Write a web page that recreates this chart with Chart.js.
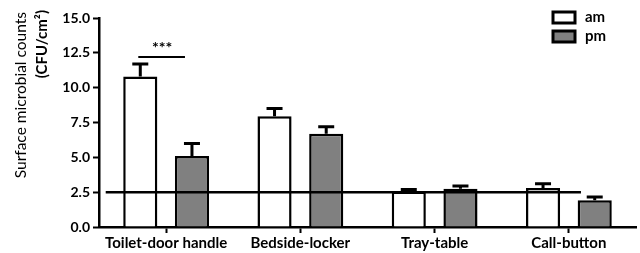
<!DOCTYPE html>
<html>
<head>
<meta charset="utf-8">
<script src="https://cdn.jsdelivr.net/npm/chart.js@4"></script>
<style>
  html, body { margin: 0; padding: 0; background: #fff; }
  #wrap { width: 640px; height: 253px; }
</style>
</head>
<body>
<div id="wrap"><canvas id="chart1" width="640" height="253"></canvas></div>
<script>
// data
const sites = ['Toilet-door handle', 'Bedside-locker', 'Tray-table', 'Call-button'];
const amMeans = [10.8, 7.95, 2.55, 2.8];
const amErrors = [11.7, 8.5, 2.7, 3.1];
const pmMeans = [5.1, 6.7, 2.75, 1.92];
const pmErrors = [6.0, 7.2, 2.95, 2.15];
const yTicks = [0, 2.5, 5, 7.5, 10, 12.5, 15];
const thresholdValue = 2.5;
const sigLabel = '***';
const sigValue = 12.2;
const yTitle = ['Surface microbial counts', '(CFU/cm\u00B2)'];

const errorTops = [amErrors, pmErrors];

const extrasPlugin = {
    id: 'extras',
    afterDatasetsDraw(chart) {
        const ctx = chart.ctx;
        const x = chart.scales.x;
        const y = chart.scales.y;
        ctx.save();
        ctx.strokeStyle = '#000';
        ctx.lineCap = 'butt';

        // error bars (upper only)
        chart.data.datasets.forEach((ds, di) => {
            const meta = chart.getDatasetMeta(di);
            meta.data.forEach((bar, i) => {
                const top = y.getPixelForValue(errorTops[di][i]);
                ctx.lineWidth = 3;
                ctx.beginPath();
                ctx.moveTo(bar.x, bar.y);
                ctx.lineTo(bar.x, top);
                ctx.moveTo(bar.x - 8, top);
                ctx.lineTo(bar.x + 8, top);
                ctx.stroke();
            });
        });

        // threshold line
        const ty = y.getPixelForValue(thresholdValue);
        ctx.lineWidth = 2.5;
        ctx.beginPath();
        ctx.moveTo(x.getPixelForValue(-0.45), ty);
        ctx.lineTo(x.getPixelForValue(3.09), ty);
        ctx.stroke();

        // significance bar
        const m0 = chart.getDatasetMeta(0).data[0];
        const m1 = chart.getDatasetMeta(1).data[0];
        const sy = y.getPixelForValue(sigValue);
        ctx.lineWidth = 2;
        ctx.beginPath();
        ctx.moveTo(m0.x - 2, sy);
        ctx.lineTo(m1.x - 7, sy);
        ctx.stroke();
        ctx.fillStyle = '#000';
        ctx.font = 'bold 16px Lato';
        ctx.textAlign = 'center';
        ctx.textBaseline = 'middle';
        ctx.fillText(sigLabel, (m0.x + m1.x) / 2 - 4, sy - 9);

        // legend
        chart.data.datasets.forEach((ds, di) => {
            const by = 12 + di * 19;
            ctx.fillStyle = ds.backgroundColor;
            ctx.fillRect(553, by, 22, 11);
            ctx.lineWidth = 3;
            ctx.strokeRect(553, by, 22, 11);
            ctx.fillStyle = '#000';
            ctx.font = 'bold 15px Lato';
            ctx.textAlign = 'left';
            ctx.fillText(ds.label, 585, by + 5);
        });

        // y axis title
        ctx.rotate(-Math.PI / 2);
        ctx.textAlign = 'right';
        ctx.font = '15.5px Lato';
        ctx.fillText(yTitle[0], -12, 21);
        ctx.font = 'bold 15px Lato';
        ctx.fillText(yTitle[1], -10, 42);
        ctx.restore();
    }
};

const ctx1 = document.getElementById('chart1').getContext('2d');
const chart1 = new Chart(ctx1, {
    type: 'bar',
    data: {
        labels: sites,
        datasets: [{
            label: 'am',
            data: amMeans,
            backgroundColor: '#ffffff',
            borderColor: '#000000',
            borderWidth: 2.5
        }, {
            label: 'pm',
            data: pmMeans,
            backgroundColor: '#808080',
            borderColor: '#000000',
            borderWidth: 2.5
        }]
    },
    options: {
        responsive: false,
        animation: false,
        devicePixelRatio: 1,
        categoryPercentage: 0.77,
        barPercentage: 0.66,
        layout: { padding: { top: 18, right: 4, left: 0, bottom: 0 } },
        plugins: {
            legend: { display: false },
            tooltip: { enabled: false }
        },
        scales: {
            x: {
                afterFit: (s) => { s.height = 26; },
                grid: {
                    offset: false,
                    drawOnChartArea: false,
                    drawTicks: true,
                    tickLength: 6,
                    tickWidth: 2,
                    tickColor: '#000'
                },
                border: { color: '#000', width: 2.5 },
                ticks: {
                    color: '#000',
                    padding: 1,
                    font: { family: 'Lato', size: 15, weight: 'bold' }
                }
            },
            y: {
                min: 0,
                max: 15,
                afterFit: (s) => { s.width = 99; },
                afterBuildTicks: (s) => { s.ticks = yTicks.map(v => ({ value: v })); },
                grid: {
                    drawOnChartArea: false,
                    drawTicks: true,
                    tickLength: 6,
                    tickWidth: 2,
                    tickColor: '#000'
                },
                border: { color: '#000', width: 2.5 },
                ticks: {
                    color: '#000',
                    padding: 3,
                    callback: (v) => Number(v).toFixed(1),
                    font: { family: 'Lato', size: 14, weight: 'bold' }
                }
            }
        }
    },
    plugins: [extrasPlugin]
});
</script>
</body>
</html>
